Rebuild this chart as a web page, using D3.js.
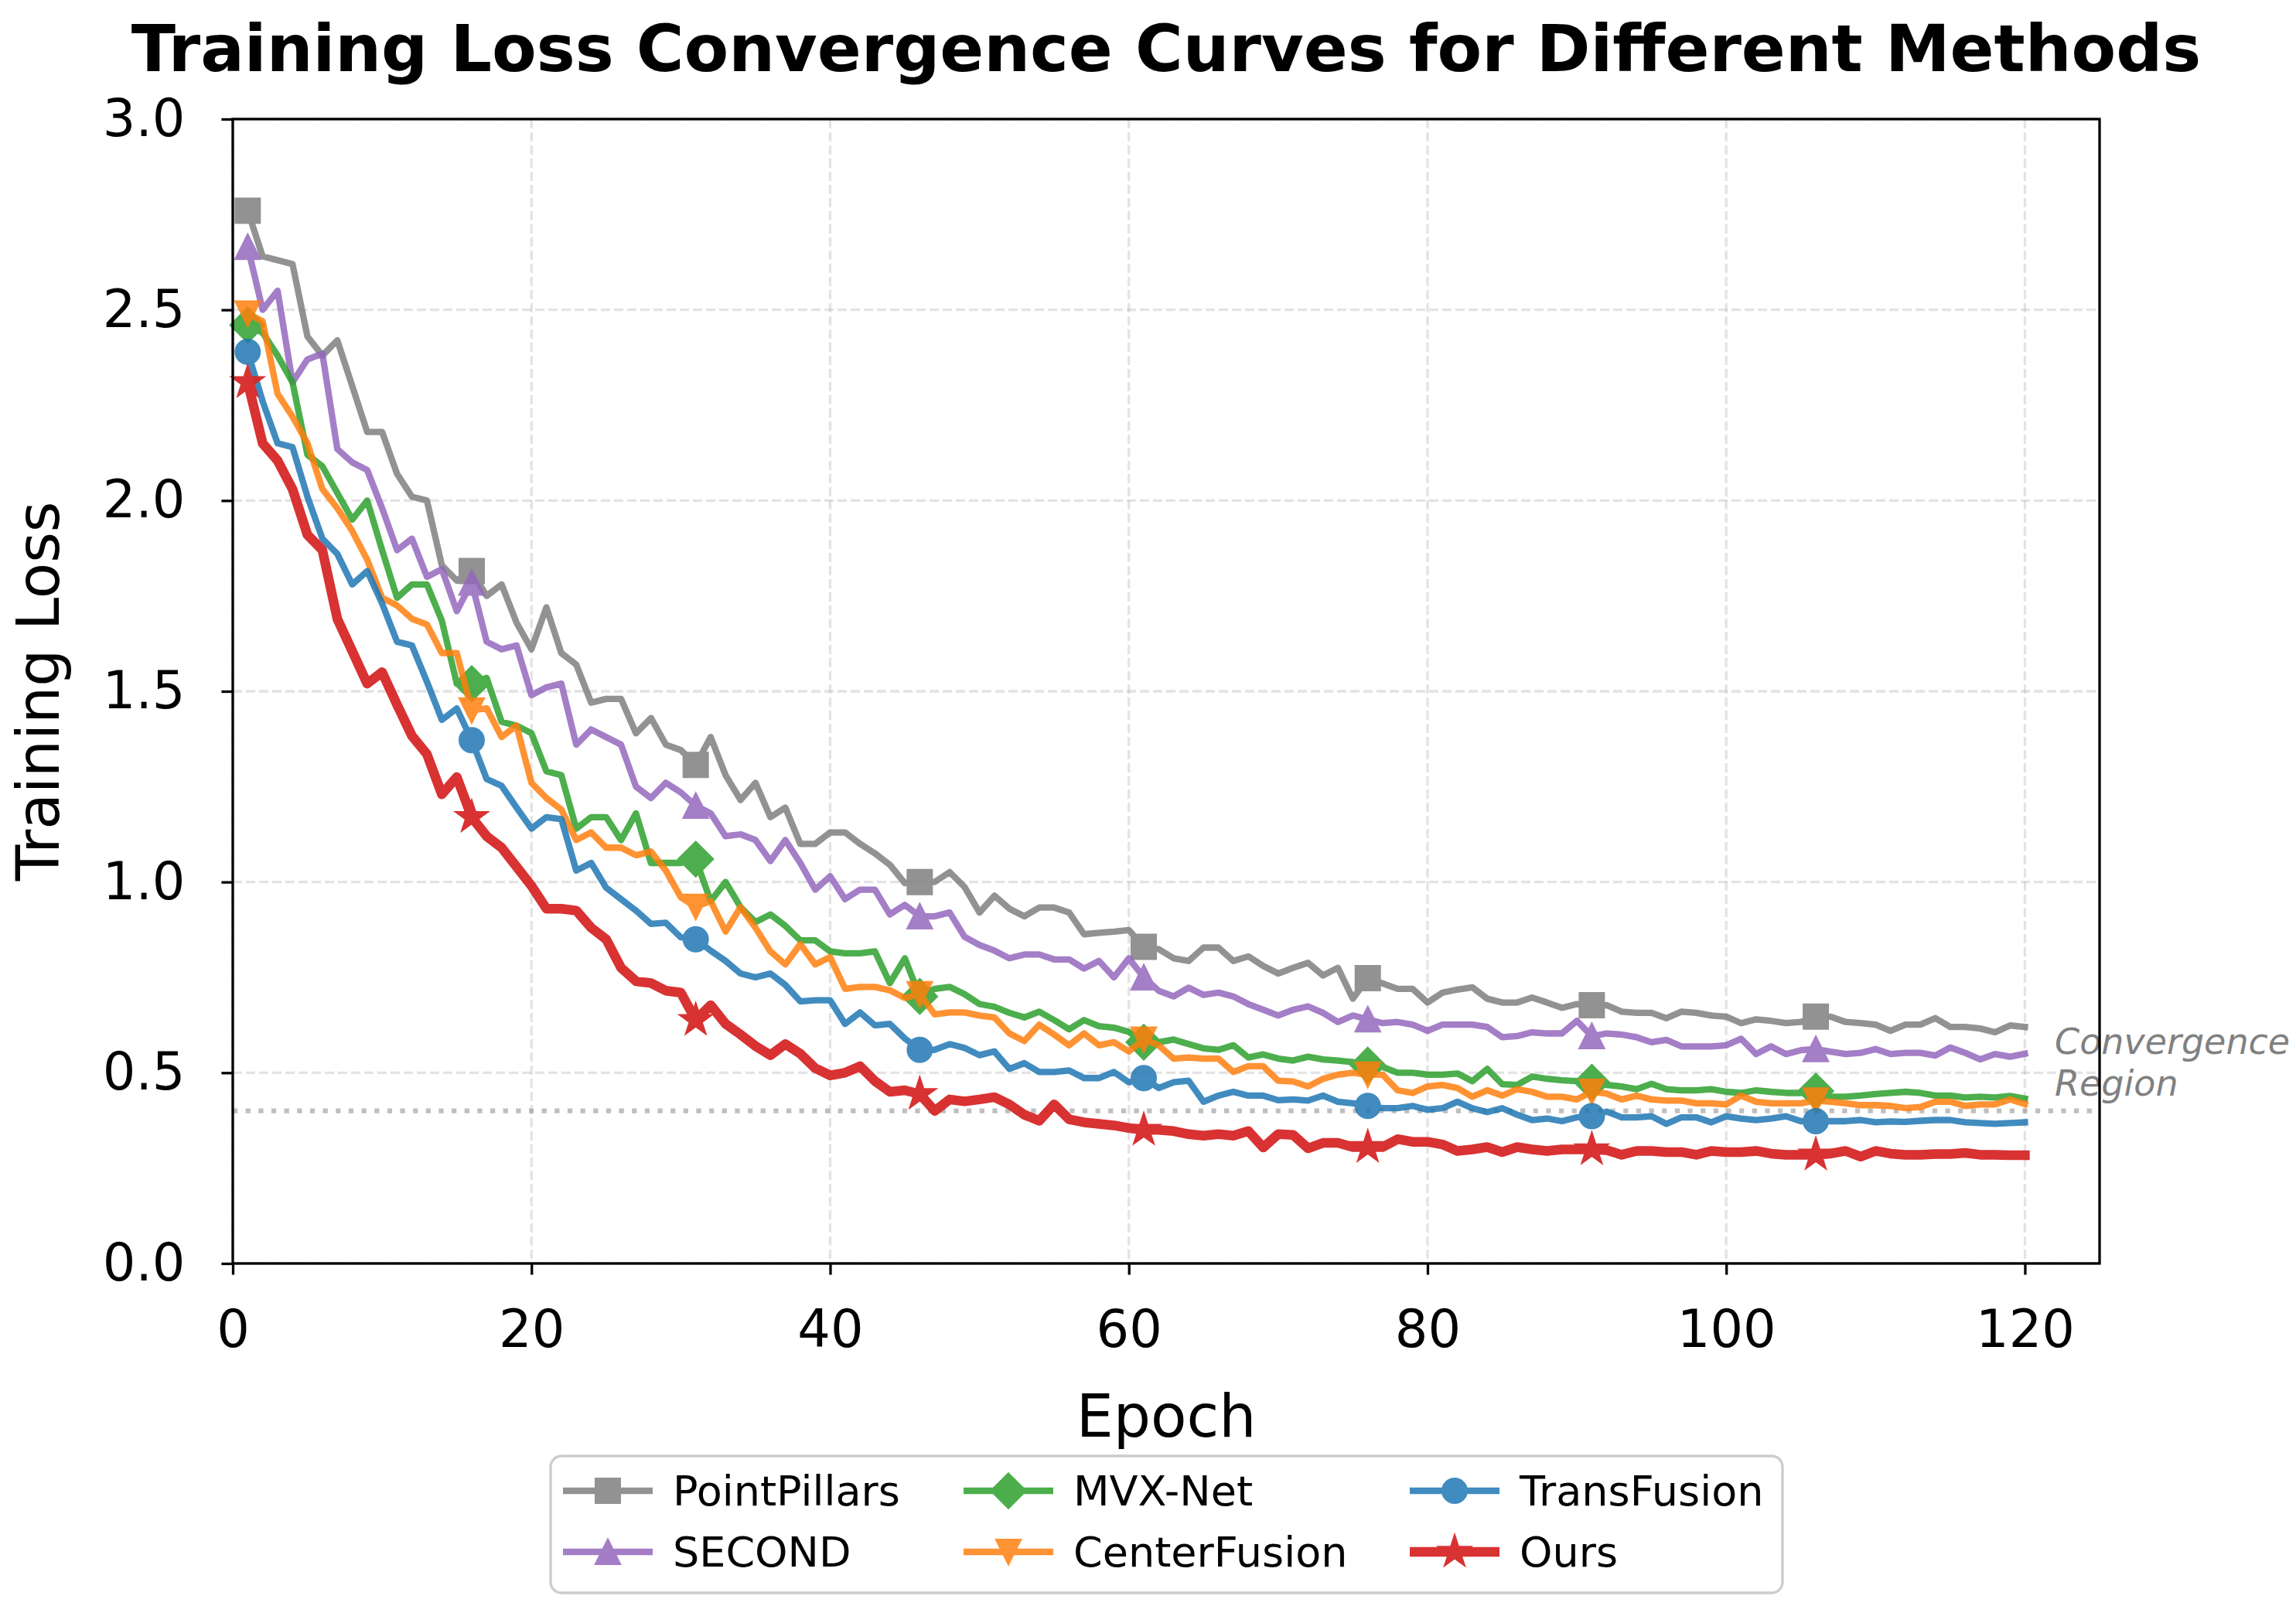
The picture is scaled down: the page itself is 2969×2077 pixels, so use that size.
<!DOCTYPE html>
<html>
<head>
<meta charset="utf-8">
<script src="https://cdn.jsdelivr.net/npm/d3@7"></script>
<style>
  body { margin: 0; background: #fff; }
  text { font-family: "DejaVu Sans", sans-serif; }
</style>
</head>
<body>
<script>
// ---- data (epochs 1..120) ----
var epochs = d3.range(1, 121);

var pointPillars = [
  2.76, 2.64, 2.63, 2.62, 2.43, 2.38, 2.42, 2.30, 2.18, 2.18,
  2.07, 2.01, 2.00, 1.83, 1.79, 1.815, 1.75, 1.78, 1.68, 1.61,
  1.72, 1.60, 1.57, 1.47, 1.48, 1.48, 1.39, 1.43, 1.36, 1.346,
  1.307, 1.38, 1.28, 1.215, 1.26, 1.17, 1.195, 1.10, 1.10, 1.13,
  1.13, 1.10, 1.075, 1.045, 0.997, 1.00, 1.00, 1.026, 0.987, 0.92,
  0.964, 0.93, 0.91, 0.933, 0.933, 0.92, 0.863, 0.867, 0.87, 0.874,
  0.83, 0.824, 0.80, 0.793, 0.828, 0.828, 0.793, 0.805, 0.78, 0.76,
  0.775, 0.788, 0.755, 0.775, 0.694, 0.748, 0.734, 0.72, 0.72, 0.684,
  0.71, 0.718, 0.724, 0.694, 0.684, 0.684, 0.697, 0.684, 0.67, 0.68,
  0.677, 0.677, 0.66, 0.657, 0.657, 0.643, 0.66, 0.657, 0.65, 0.647,
  0.63, 0.64, 0.636, 0.63, 0.633, 0.647, 0.647, 0.633, 0.63, 0.626,
  0.61, 0.626, 0.626, 0.643, 0.62, 0.62, 0.616, 0.606, 0.624, 0.62
];

var second = [
  2.665, 2.50, 2.55, 2.31, 2.37, 2.385, 2.135, 2.10, 2.08, 1.98,
  1.87, 1.90, 1.80, 1.82, 1.71, 1.785, 1.63, 1.61, 1.62, 1.49,
  1.51, 1.52, 1.36, 1.40, 1.38, 1.36, 1.25, 1.22, 1.26, 1.235,
  1.20, 1.18, 1.12, 1.125, 1.11, 1.055, 1.11, 1.05, 0.98, 1.015,
  0.955, 0.98, 0.98, 0.915, 0.94, 0.91, 0.91, 0.92, 0.856, 0.835,
  0.82, 0.80, 0.81, 0.81, 0.797, 0.797, 0.773, 0.793, 0.75, 0.80,
  0.75, 0.715, 0.70, 0.723, 0.704, 0.71, 0.70, 0.68, 0.665, 0.65,
  0.665, 0.674, 0.657, 0.633, 0.65, 0.64, 0.63, 0.633, 0.626, 0.61,
  0.626, 0.626, 0.626, 0.62, 0.593, 0.596, 0.606, 0.603, 0.603, 0.636,
  0.596, 0.603, 0.60, 0.593, 0.58, 0.586, 0.569, 0.569, 0.569, 0.572,
  0.589, 0.549, 0.569, 0.549, 0.559, 0.562, 0.555, 0.549, 0.552, 0.562,
  0.549, 0.552, 0.552, 0.545, 0.566, 0.552, 0.535, 0.549, 0.542, 0.55
];

var mvxNet = [
  2.46, 2.44, 2.38, 2.31, 2.12, 2.09, 2.02, 1.95, 2.00, 1.87,
  1.745, 1.78, 1.78, 1.685, 1.52, 1.52, 1.535, 1.42, 1.41, 1.39,
  1.29, 1.28, 1.14, 1.17, 1.17, 1.11, 1.18, 1.05, 1.05, 1.05,
  1.06, 0.95, 1.00, 0.934, 0.895, 0.915, 0.885, 0.847, 0.847, 0.818,
  0.813, 0.813, 0.818, 0.735, 0.80, 0.70, 0.72, 0.725, 0.706, 0.68,
  0.673, 0.657, 0.645, 0.66, 0.638, 0.614, 0.638, 0.622, 0.618, 0.607,
  0.58, 0.58, 0.587, 0.575, 0.564, 0.56, 0.572, 0.54, 0.548, 0.537,
  0.532, 0.542, 0.535, 0.532, 0.528, 0.52, 0.515, 0.50, 0.50, 0.495,
  0.495, 0.498, 0.478, 0.51, 0.47, 0.468, 0.49, 0.484, 0.48, 0.478,
  0.475, 0.468, 0.464, 0.457, 0.471, 0.457, 0.454, 0.454, 0.457, 0.45,
  0.447, 0.454, 0.45, 0.447, 0.447, 0.452, 0.437, 0.437, 0.44, 0.444,
  0.447, 0.45, 0.447, 0.44, 0.44, 0.435, 0.437, 0.435, 0.439, 0.432
];

var centerFusion = [
  2.49, 2.47, 2.28, 2.22, 2.15, 2.03, 1.98, 1.92, 1.845, 1.745,
  1.725, 1.69, 1.675, 1.60, 1.60, 1.45, 1.455, 1.38, 1.41, 1.26,
  1.22, 1.19, 1.11, 1.13, 1.09, 1.09, 1.07, 1.08, 1.03, 0.96,
  0.935, 0.95, 0.87, 0.934, 0.88, 0.818, 0.784, 0.837, 0.784, 0.803,
  0.72, 0.725, 0.725, 0.716, 0.696, 0.706, 0.653, 0.658, 0.658, 0.65,
  0.645, 0.603, 0.583, 0.626, 0.60, 0.572, 0.603, 0.572, 0.58, 0.556,
  0.587, 0.572, 0.537, 0.54, 0.537, 0.537, 0.502, 0.517, 0.517, 0.479,
  0.477, 0.464, 0.484, 0.495, 0.50, 0.495, 0.495, 0.454, 0.447, 0.464,
  0.468, 0.46, 0.437, 0.454, 0.44, 0.457, 0.45, 0.437, 0.437, 0.43,
  0.45, 0.445, 0.43, 0.44, 0.43, 0.427, 0.427, 0.42, 0.42, 0.417,
  0.44, 0.424, 0.42, 0.42, 0.42, 0.427, 0.424, 0.42, 0.415, 0.415,
  0.413, 0.407, 0.41, 0.424, 0.424, 0.413, 0.417, 0.417, 0.43, 0.418
];

var transFusion = [
  2.39, 2.26, 2.15, 2.14, 2.01, 1.90, 1.86, 1.78, 1.815, 1.73,
  1.63, 1.62, 1.525, 1.425, 1.455, 1.372, 1.27, 1.252, 1.195, 1.14,
  1.17, 1.165, 1.03, 1.05, 0.985, 0.955, 0.925, 0.89, 0.893, 0.855,
  0.85, 0.82, 0.793, 0.76, 0.75, 0.76, 0.73, 0.687, 0.69, 0.69,
  0.628, 0.658, 0.624, 0.628, 0.59, 0.56, 0.56, 0.575, 0.565, 0.546,
  0.556, 0.51, 0.525, 0.502, 0.502, 0.506, 0.486, 0.486, 0.502, 0.475,
  0.486, 0.46, 0.475, 0.479, 0.424, 0.44, 0.45, 0.44, 0.44, 0.428,
  0.43, 0.427, 0.44, 0.424, 0.42, 0.413, 0.407, 0.407, 0.413, 0.403,
  0.407, 0.424, 0.407, 0.397, 0.407, 0.39, 0.376, 0.38, 0.373, 0.383,
  0.386, 0.398, 0.383, 0.383, 0.386, 0.366, 0.383, 0.383, 0.37, 0.386,
  0.38, 0.376, 0.38, 0.386, 0.373, 0.373, 0.373, 0.373, 0.376, 0.37,
  0.372, 0.371, 0.374, 0.376, 0.376, 0.37, 0.368, 0.366, 0.368, 0.37
];

var ours = [
  2.31, 2.15, 2.105, 2.03, 1.91, 1.87, 1.69, 1.605, 1.52, 1.55,
  1.465, 1.383, 1.335, 1.23, 1.275, 1.17, 1.12, 1.09, 1.04, 0.99,
  0.93, 0.93, 0.925, 0.88, 0.85, 0.775, 0.74, 0.735, 0.715, 0.71,
  0.638, 0.677, 0.628, 0.60, 0.57, 0.546, 0.575, 0.55, 0.512, 0.493,
  0.50, 0.517, 0.478, 0.45, 0.454, 0.444, 0.40, 0.43, 0.425, 0.43,
  0.436, 0.417, 0.39, 0.374, 0.417, 0.378, 0.37, 0.366, 0.362, 0.355,
  0.35, 0.35, 0.347, 0.339, 0.335, 0.339, 0.335, 0.347, 0.304, 0.339,
  0.337, 0.302, 0.316, 0.316, 0.305, 0.305, 0.305, 0.326, 0.319, 0.319,
  0.312, 0.295, 0.299, 0.305, 0.292, 0.305, 0.299, 0.295, 0.299, 0.299,
  0.299, 0.297, 0.285, 0.295, 0.295, 0.292, 0.292, 0.285, 0.295, 0.292,
  0.292, 0.295, 0.288, 0.285, 0.285, 0.285, 0.288, 0.295, 0.28, 0.295,
  0.288, 0.285, 0.285, 0.287, 0.287, 0.29, 0.285, 0.285, 0.284, 0.284
];

var methodNames = ["PointPillars", "SECOND", "MVX-Net", "CenterFusion", "TransFusion", "Ours"];
var methodValues = [pointPillars, second, mvxNet, centerFusion, transFusion, ours];

var xTicks = [0, 20, 40, 60, 80, 100, 120];
var yTicks = [0, 0.5, 1.0, 1.5, 2.0, 2.5, 3.0];
var convergenceLevel = 0.4;
var noteLines = ["Convergence", "Region"];
var noteAt = [122, 0.53];

// ---- styles ----
var styles = [
  {color: "#7f7f7f", marker: "square",  width: 8.3,  opacity: 0.85},
  {color: "#9467bd", marker: "triUp",   width: 8.3,  opacity: 0.85},
  {color: "#2ca02c", marker: "diamond", width: 8.3,  opacity: 0.85},
  {color: "#ff7f0e", marker: "triDown", width: 8.3,  opacity: 0.85},
  {color: "#1f77b4", marker: "circle",  width: 8.3,  opacity: 0.85},
  {color: "#d62728", marker: "star",    width: 12.5, opacity: 0.95}
];

var chartConfig = {
  width: 2969, height: 2077,
  plot: {left: 301, right: 2715, top: 154, bottom: 1634},
  markEvery: 15
};

function markerPath(type) {
  var r = 15.5;
  if (type == "square") return "M" + (-r) + "," + (-r) + "H" + r + "V" + r + "H" + (-r) + "Z";
  if (type == "triUp") return "M0," + (-r) + "L" + r + "," + r + "L" + (-r) + "," + r + "Z";
  if (type == "triDown") return "M0," + r + "L" + r + "," + (-r) + "L" + (-r) + "," + (-r) + "Z";
  if (type == "diamond") { var q = r * 1.42; return "M0," + (-q) + "L" + q + ",0L0," + q + "L" + (-q) + ",0Z"; }
  if (type == "circle") return "M" + r + ",0A" + r + "," + r + " 0 1,1 " + (-r) + ",0A" + r + "," + r + " 0 1,1 " + r + ",0Z";
  // star
  var pts = [], ro = 20.5, ri = ro * 0.382;
  for (var i = 0; i < 10; i++) {
    var a = -Math.PI / 2 + i * Math.PI / 5, rr = i % 2 ? ri : ro;
    pts.push([rr * Math.cos(a), rr * Math.sin(a)]);
  }
  return "M" + pts.map(function(p){ return p[0].toFixed(2) + "," + p[1].toFixed(2); }).join("L") + "Z";
}

var P = chartConfig.plot;
var svg = d3.select("body").append("svg")
  .attr("width", chartConfig.width)
  .attr("height", chartConfig.height);
svg.append("rect").attr("width", chartConfig.width).attr("height", chartConfig.height).attr("fill", "#fff");

var x = d3.scaleLinear().domain([0, 125]).range([P.left, P.right]);
var y = d3.scaleLinear().domain([0, 3]).range([P.bottom, P.top]);

// grid
var grid = svg.append("g").attr("stroke", "#b0b0b0").attr("stroke-opacity", 0.35)
  .attr("stroke-width", 3.3).attr("stroke-dasharray", "12,5");
grid.selectAll(".gx").data(xTicks).enter().append("line")
  .attr("x1", function(d){ return x(d); }).attr("x2", function(d){ return x(d); })
  .attr("y1", P.top).attr("y2", P.bottom);
grid.selectAll(".gy").data(yTicks).enter().append("line")
  .attr("x1", P.left).attr("x2", P.right)
  .attr("y1", function(d){ return y(d); }).attr("y2", function(d){ return y(d); });

// convergence line
svg.append("line")
  .attr("x1", P.left).attr("x2", P.right)
  .attr("y1", y(convergenceLevel)).attr("y2", y(convergenceLevel))
  .attr("stroke", "#808080").attr("stroke-opacity", 0.5)
  .attr("stroke-width", 6.25).attr("stroke-dasharray", "6.25,10.4");

// series
var line = d3.line()
  .x(function(d){ return x(d.e); })
  .y(function(d){ return y(d.v); });

var plotClip = svg.append("clipPath").attr("id", "plotclip").append("rect")
  .attr("x", P.left).attr("y", P.top).attr("width", P.right - P.left).attr("height", P.bottom - P.top);

methodNames.forEach(function(name, i) {
  var st = styles[i];
  var pts = epochs.map(function(e, k){ return {e: e, v: methodValues[i][k]}; });
  var g = svg.append("g").attr("opacity", st.opacity);
  g.append("path").datum(pts)
    .attr("d", line)
    .attr("fill", "none")
    .attr("stroke", st.color)
    .attr("stroke-width", st.width)
    .attr("stroke-linejoin", "round")
    .attr("stroke-linecap", "square");
  g.selectAll(".m").data(pts.filter(function(d, k){ return k % chartConfig.markEvery == 0; }))
    .enter().append("path")
    .attr("transform", function(d){ return "translate(" + x(d.e) + "," + y(d.v) + ")"; })
    .attr("d", markerPath(st.marker))
    .attr("fill", st.color)
    .attr("stroke", st.color)
    .attr("stroke-width", 3)
    .attr("stroke-linejoin", "miter");
});

// annotation
var note = svg.append("text")
  .attr("x", x(noteAt[0])).attr("y", y(noteAt[1]) - 10)
  .attr("font-size", 46).attr("font-style", "italic")
  .attr("fill", "#808080");
noteLines.forEach(function(t, k){
  note.append("tspan").attr("x", x(noteAt[0])).attr("dy", k ? 54 : 0).text(t);
});

// axes
var xAxis = d3.axisBottom(x).tickValues(xTicks).tickSize(14.6).tickPadding(46)
  .tickFormat(d3.format("d"));
var yAxis = d3.axisLeft(y).tickValues(yTicks).tickSize(14.6).tickPadding(47)
  .tickFormat(d3.format(".1f"));

var gx = svg.append("g").attr("transform", "translate(0," + P.bottom + ")").call(xAxis);
var gy = svg.append("g").attr("transform", "translate(" + P.left + ",0)").call(yAxis);
[gx, gy].forEach(function(g){
  g.select(".domain").remove();
  g.selectAll("line").attr("stroke", "#000").attr("stroke-width", 3.3);
  g.selectAll("text").attr("font-size", 67).attr("fill", "#000")
    .attr("font-family", "DejaVu Sans");
});

svg.append("rect")
  .attr("x", P.left).attr("y", P.top)
  .attr("width", P.right - P.left).attr("height", P.bottom - P.top)
  .attr("fill", "none").attr("stroke", "#000").attr("stroke-width", 3.3);

// labels
svg.append("text").attr("x", (P.left + P.right) / 2).attr("y", 1858)
  .attr("text-anchor", "middle").attr("font-size", 76).text("Epoch");
svg.append("text")
  .attr("transform", "translate(76," + (P.top + P.bottom) / 2 + ") rotate(-90)")
  .attr("text-anchor", "middle").attr("font-size", 76).text("Training Loss");
svg.append("text").attr("x", (P.left + P.right) / 2).attr("y", 92)
  .attr("text-anchor", "middle").attr("font-size", 84).attr("font-weight", "bold")
  .text("Training Loss Convergence Curves for Different Methods");

// legend
var lg = svg.append("g");
lg.append("rect").attr("x", 712).attr("y", 1883).attr("width", 1593).attr("height", 177)
  .attr("rx", 14).attr("fill", "#fff").attr("fill-opacity", 0.8)
  .attr("stroke", "#cccccc").attr("stroke-width", 3.3);
var colX = [728, 1246, 1823];
var rowY = [1928, 2007];
methodNames.forEach(function(name, i) {
  var st = styles[i];
  var cx = colX[Math.floor(i / 2)], cy = rowY[i % 2];
  var h = lg.append("g").attr("opacity", st.opacity);
  h.append("line").attr("x1", cx).attr("x2", cx + 116).attr("y1", cy).attr("y2", cy)
    .attr("stroke", st.color).attr("stroke-width", st.width);
  h.append("path").attr("transform", "translate(" + (cx + 58) + "," + cy + ")")
    .attr("d", markerPath(st.marker))
    .attr("fill", st.color).attr("stroke", st.color).attr("stroke-width", 3);
  lg.append("text").attr("x", cx + 142).attr("y", cy + 19)
    .attr("font-size", 54).attr("fill", "#000").text(name);
});
</script>
</body>
</html>
